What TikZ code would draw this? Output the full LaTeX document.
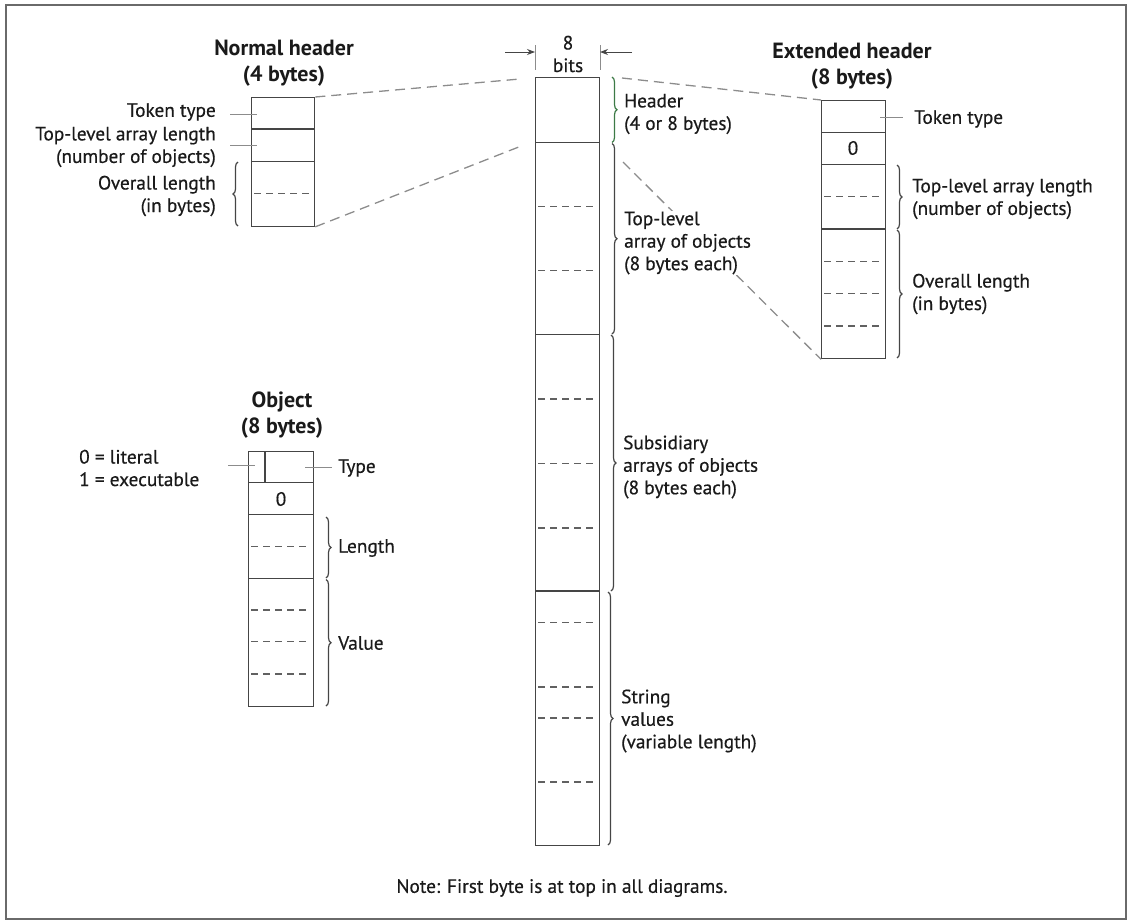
\documentclass[tikz,border=0pt]{standalone}
\usepackage{fontspec}
\setmainfont{PT Sans}
\newfontfamily\labfont{PT Sans}[FakeBold=0.5]
\usetikzlibrary{decorations.pathreplacing,arrows.meta}
\definecolor{boxc}{HTML}{454545}
\definecolor{dashc}{HTML}{8C8C8C}
\definecolor{framec}{HTML}{6A6A6A}
\definecolor{txtc}{HTML}{1A1A1A}
\definecolor{greenb}{HTML}{3C7A46}
\newcommand\myrow[3]{\draw[rowline] (#1,#3) -- (#2,#3);}
\newcommand\mydrow[3]{\draw[drowline] (#1+3,#3) -- (#2-4,#3);}
\tikzset{
  cell/.style={draw=boxc, line width=1.3pt, inner sep=0pt, anchor=north west},
  rowline/.style={draw=boxc, line width=1.1pt},
  drowline/.style={draw=boxc!85, line width=1.1pt, dash pattern=on 7pt off 5pt},
  conn/.style={draw=dashc, line width=1.3pt, dash pattern=on 10pt off 6pt},
  tickl/.style={draw=dashc, line width=1pt},
  brc/.style={draw=boxc, line width=1.2pt, decorate, decoration={brace, amplitude=5pt}},
  lab/.style={text=txtc, font=\labfont\fontsize{19.3}{22.5}\selectfont, inner sep=1pt},
  ttl/.style={text=txtc, font=\fontsize{22}{26}\selectfont\bfseries, align=center, inner sep=0pt},
}
\begin{document}
\begin{tikzpicture}[x=1pt, y=-1pt]
\useasboundingbox (0,0) rectangle (1127,921);
\draw[framec, line width=1.8pt] (6,5) rectangle (1126,919);

% ---------- Normal header ----------
\node[ttl] (nht) at (284,63) {Normal header\\(4 bytes)};
\node[cell, minimum width=63pt, minimum height=128.5pt] (nh) at (251,97) {};
\myrow{251}{314}{129}
\myrow{251}{314}{161.7}
\mydrow{251}{314}{193.5}
\node[lab, anchor=east] (nhtt) at (217,112) {Token type};
\coordinate (nhtk1a) at (230,114);
\coordinate (nhtk1b) at (257,114);
\draw[tickl] (nhtk1a) -- (nhtk1b);
\node[lab, anchor=east, align=right] (nhal) at (217,147) {Top-level array length\\(number of objects)};
\coordinate (nhtk2a) at (230,145);
\coordinate (nhtk2b) at (257,145);
\draw[tickl] (nhtk2a) -- (nhtk2b);
\draw[brc] (238,226) -- (238,162);
\node[lab, anchor=east, align=right] (nhol) at (217,196) {Overall length\\(in bytes)};

% ---------- Central column ----------
\node[cell, minimum width=64pt, minimum height=768pt] (col) at (535,77) {};
\myrow{535}{599}{142.5}
\myrow{535}{599}{334.5}
\myrow{535}{599}{591}
\mydrow{535}{599}{206.5}
\mydrow{535}{599}{270.5}
\mydrow{535}{599}{399}
\mydrow{535}{599}{463.5}
\mydrow{535}{599}{528}
\mydrow{535}{599}{622.5}
\mydrow{535}{599}{687}
\mydrow{535}{599}{718}
\mydrow{535}{599}{782}
\coordinate (hdrbot) at (520,146.5);
\coordinate (hdrtop) at (520,79);

% width marker
\node[lab, align=center, inner sep=0pt] (bits) at (568,54) {8\\bits};
\draw[tickl] (col.north west) ++(0,-32) -- ++(0,25);
\draw[tickl] (col.north east) ++(0,-32) -- ++(0,25);
\coordinate (arla) at (505,52);
\coordinate (arlb) at (535,52);
\coordinate (arra) at (632,52);
\coordinate (arrb) at (600,52);
\draw[draw=boxc, line width=1pt, -{Stealth[length=8pt,width=6pt]}] (arla) -- (arlb);
\draw[draw=boxc, line width=1pt, -{Stealth[length=8pt,width=6pt]}] (arra) -- (arrb);

% connectors from normal header
\draw[conn] (nh.north east) -- (hdrtop);
\draw[conn] (nh.south east) -- (hdrbot);

% ---------- Extended header ----------
\node[ttl] (eht) at (852,66) {Extended header\\(8 bytes)};
\node[cell, minimum width=64pt, minimum height=258pt] (eh) at (821,100) {};
\myrow{821}{885}{132.5}
\myrow{821}{885}{164.5}
\myrow{821}{885}{229}
\mydrow{821}{885}{196.7}
\mydrow{821}{885}{261.7}
\mydrow{821}{885}{293.5}
\mydrow{821}{885}{326}
\node[lab] (ehz) at (853,148) {0};
\coordinate (ehtka) at (880,117);
\coordinate (ehtkb) at (903,117);
\draw[tickl] (ehtka) -- (ehtkb);
\node[lab, anchor=west] (ehtt) at (913,119) {Token type};
\draw[brc] (897,165) -- (897,229);
\draw[brc] (897,230) -- (897,358);
\node[lab, anchor=west, align=left] (ehal) at (911,199) {Top-level array length\\(number of objects)};
\node[lab, anchor=west, align=left] (ehol) at (911,294) {Overall length\\(in bytes)};

% connectors to extended header
\coordinate (ehsrc1) at (622,78);
\coordinate (ehsrc2) at (623,162);
\draw[conn] (ehsrc1) -- (eh.north west);
\draw[conn] (ehsrc2) -- (eh.south west);

% central braces and labels
\draw[brc, draw=greenb] (612,77) -- (612,142.5);
\draw[brc] (612,143.5) -- (612,334);
\draw[brc] (611,335) -- (611,591);
\draw[brc] (608,592) -- (608,845);
\node[lab, anchor=west, align=left] (hdrl) at (623,114) {Header\\(4 or 8 bytes)};
\node[lab, anchor=west, align=left, fill=white] (tlal) at (623,243) {Top-level\\array of objects\\(8 bytes each)};
\node[lab, anchor=west, align=left] (subl) at (622,467) {Subsidiary\\arrays of objects\\(8 bytes each)};
\node[lab, anchor=west, align=left] (strl) at (620,721) {String\\values\\(variable length)};

% ---------- Object ----------
\node[ttl] (objt) at (282,415) {Object\\(8 bytes)};
\node[cell, minimum width=65pt, minimum height=255pt] (obj) at (248,451) {};
\myrow{248}{313}{482.5}
\myrow{248}{313}{514.5}
\myrow{248}{313}{578.7}
\mydrow{248}{313}{546.7}
\mydrow{248}{313}{610}
\mydrow{248}{313}{641.7}
\mydrow{248}{313}{674}
\draw[rowline] (265,451) -- (265,482.5);
\node[lab] (objz) at (281,499) {0};
\coordinate (objtla) at (228,465);
\coordinate (objtlb) at (255,465);
\draw[tickl] (objtla) -- (objtlb);
\coordinate (objtra) at (305,467);
\coordinate (objtrb) at (332,467);
\draw[tickl] (objtra) -- (objtrb);
\node[lab, anchor=west] (objty) at (337,468) {Type};
\node[lab, anchor=west, align=left] (objlit) at (78,468) {0 = literal\\1 = executable};
\draw[brc] (326,517) -- (326,578);
\draw[brc] (326,579.5) -- (326,706);
\node[lab, anchor=west] (objlen) at (337,548) {Length};
\node[lab, anchor=west] (objval) at (337,643) {Value};

% ---------- Note ----------
\node[lab] (note) at (562,888) {Note: First byte is at top in all diagrams.};
\end{tikzpicture}
\end{document}
